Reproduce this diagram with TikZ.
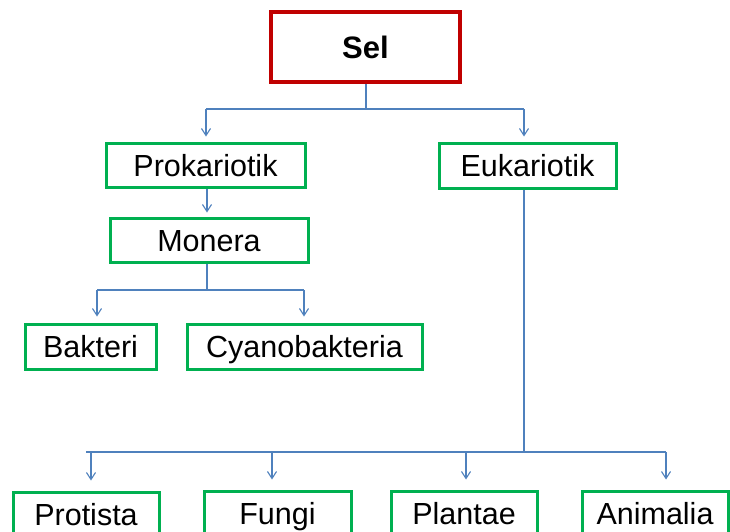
\documentclass[tikz,border=0pt]{standalone}
\usepackage{fontspec}
\setmainfont{Liberation Sans}
\usetikzlibrary{arrows.meta,shadows}
\definecolor{boxgreen}{RGB}{0,176,80}
\definecolor{boxred}{RGB}{192,0,0}
\definecolor{linkblue}{RGB}{79,129,189}
\tikzset{
  catbox/.style={draw=boxgreen, line width=3pt, fill=white, inner sep=0pt,
    text height=22pt, text depth=0pt,
    font=\fontsize{30.5}{36}\selectfont,
    drop shadow={opacity=0.25, shadow xshift=1.5pt, shadow yshift=-2pt}},
  rootbox/.style={draw=boxred, line width=3.5pt, fill=white, inner sep=0pt,
    text height=22pt, text depth=0pt,
    font=\fontsize{31}{36}\selectfont\bfseries,
    drop shadow={opacity=0.25, shadow xshift=1.5pt, shadow yshift=-2pt}},
  link/.style={draw=linkblue, line width=1.1pt},
  arrowlink/.style={link, -{Straight Barb[length=7pt,width=9pt,line width=1.1pt]}}
}
\begin{document}
\begin{tikzpicture}[x=1pt,y=-1pt]
\useasboundingbox (0,0) rectangle (730,531);
\clip (0,0) rectangle (730,531);
\fill[white] (0,0) rectangle (730,531);

% nodes
\node[rootbox, minimum width=189pt, minimum height=70pt] (sel) at (365.5,47) {Sel};
\node[catbox, minimum width=199pt, minimum height=44pt] (pro) at (205.5,165) {Prokariotik};
\node[catbox, minimum width=177pt, minimum height=45pt] (euk) at (527.5,165.5) {Eukariotik};
\node[catbox, minimum width=198pt, minimum height=44pt] (mon) at (209,240) {Monera};
\node[catbox, minimum width=131pt, minimum height=45pt] (bak) at (90.5,346.5) {Bakteri};
\node[catbox, minimum width=235pt, minimum height=45pt] (cya) at (304.5,346.5) {Cyanobakteria};
\node[catbox, minimum width=146pt, minimum height=45pt] (prot) at (86,514.5) {Protista};
\node[catbox, minimum width=147pt, minimum height=45pt] (fun) at (277.5,513.5) {Fungi};
\node[catbox, minimum width=146pt, minimum height=45pt] (pla) at (464,513.5) {Plantae};
\node[catbox, minimum width=146pt, minimum height=45pt] (ani) at (655,513.5) {Animalia};

% junction coordinates
\coordinate (j1) at (366,109);
\coordinate (j1l) at (206,109);
\coordinate (j1r) at (524,109);
\coordinate (j2) at (207,290);
\coordinate (j2l) at (97,290);
\coordinate (j2r) at (304,290);
\coordinate (j3) at (524,452);
\coordinate (j3s) at (86,452);
\coordinate (j3a) at (91,452);
\coordinate (j3b) at (272,452);
\coordinate (j3c) at (466,452);
\coordinate (j3d) at (666,452);

% connectors
\draw[link] (j1 |- sel.south) -- (j1);
\draw[link] (j1l) -- (j1r);
\draw[arrowlink] (j1l) -- ([yshift=5pt]j1l |- pro.north);
\draw[arrowlink] (j1r) -- ([yshift=5pt]j1r |- euk.north);
\draw[arrowlink] (j2 |- pro.south) -- ([yshift=4pt]j2 |- mon.north);
\draw[link] (j2 |- mon.south) -- (j2);
\draw[link] (j2l) -- (j2r);
\draw[arrowlink] (j2l) -- ([yshift=6pt]j2l |- bak.north);
\draw[arrowlink] (j2r) -- ([yshift=6pt]j2r |- cya.north);
\draw[link] (j3 |- euk.south) -- (j3);
\draw[link] (j3s) -- (j3d);
\draw[arrowlink] (j3a) -- ([yshift=10pt]j3a |- prot.north);
\draw[arrowlink] (j3b) -- ([yshift=10pt]j3b |- fun.north);
\draw[arrowlink] (j3c) -- ([yshift=10pt]j3c |- pla.north);
\draw[arrowlink] (j3d) -- ([yshift=10pt]j3d |- ani.north);
\end{tikzpicture}
\end{document}
